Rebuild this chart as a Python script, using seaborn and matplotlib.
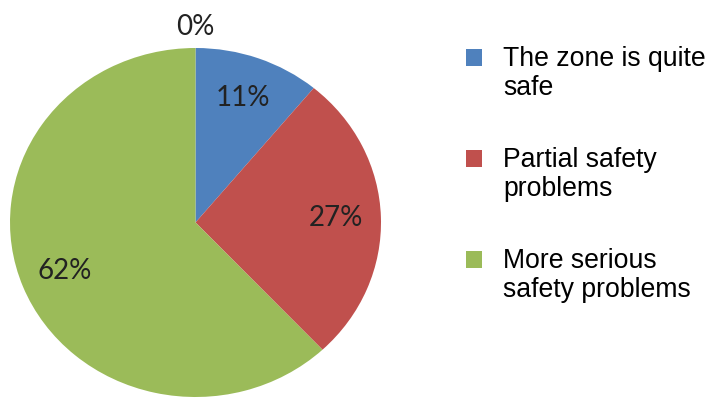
import matplotlib
matplotlib.use("Agg")
import matplotlib.pyplot as plt
import matplotlib.patches as mpatches
from matplotlib.legend_handler import HandlerPatch
import numpy as np
import seaborn as sns

# Survey answers about safety in the zone (share of respondents, %)
categories = ["", "The zone is quite\nsafe", "Partial safety\nproblems",
              "More serious\nsafety problems"]
shares = [0, 11, 27, 62]
colors = ["#8064A2", "#4F81BD", "#C0504D", "#9BBB59"]

sns.set_theme(style="white")
plt.rcParams["font.family"] = ["Liberation Sans", "DejaVu Sans"]

W, H = 710, 398
fig = plt.figure(figsize=(W / 100, H / 100), dpi=100)
ax = fig.add_axes([10 / W, 1 / H, 371 / W, 349 / H])

wedges, _, pct_texts = ax.pie(
    shares, colors=colors, startangle=90, counterclock=False,
    autopct="%.0f%%", pctdistance=0.76,
    wedgeprops=dict(linewidth=0),
    textprops=dict(family=["Lato", "DejaVu Sans"], fontsize=20,
                   color="#222222"),
)
ax.set_aspect("auto")
ax.set_xlim(-1, 1)
ax.set_ylim(-1, 1)

# an empty slice gets its label just outside the rim
for w, t, v in zip(wedges, pct_texts, shares):
    if v == 0:
        mid = np.deg2rad((w.theta1 + w.theta2) / 2)
        t.set_position((1.12 * np.cos(mid), 1.12 * np.sin(mid)))


class RaisedSquare(HandlerPatch):
    """Square legend key aligned with the first line of a two-line label."""

    def __init__(self, lift, **kw):
        super().__init__(**kw)
        self.lift = lift

    def create_artists(self, legend, orig_handle, xdescent, ydescent,
                       width, height, fontsize, trans):
        p = mpatches.Rectangle((-xdescent, -ydescent + self.lift * fontsize),
                               width, height)
        self.update_prop(p, orig_handle, legend)
        p.set_linewidth(0)
        p.set_transform(trans)
        return [p]


leg = fig.legend(
    wedges[1:], categories[1:], loc="upper left",
    bbox_to_anchor=(466 / W, 1 - 46 / H), bbox_transform=fig.transFigure,
    frameon=False, fontsize=19.2, borderpad=0, borderaxespad=0,
    handlelength=0.6, handleheight=0.6, handletextpad=0.8,
    labelspacing=1.74,
    handler_map={mpatches.Wedge: RaisedSquare(0.63)},
)
for t in leg.get_texts():
    t.set_color("black")
    t.set_linespacing(1.13)

fig.savefig("out.png", dpi=100)
